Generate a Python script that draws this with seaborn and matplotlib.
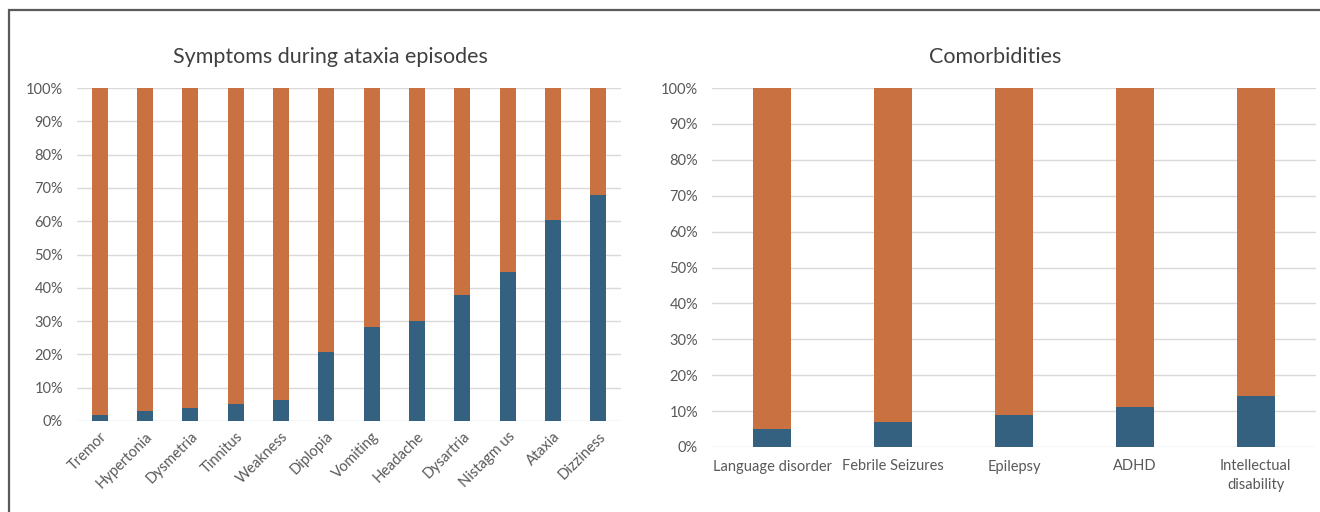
import matplotlib
matplotlib.use("Agg")
import matplotlib.pyplot as plt
import seaborn as sns
import pandas as pd
from matplotlib.ticker import PercentFormatter
from matplotlib.patches import Rectangle

# ---- data ----
symptoms = ["Tremor", "Hypertonia", "Dysmetria", "Tinnitus", "Weakness", "Diplopia",
            "Vomiting", "Headache", "Dysartria", "Nistagm us", "Ataxia", "Dizziness"]
symptoms_yes = [1.8, 3.0, 4.0, 5.1, 6.2, 20.6, 28.2, 30.0, 37.7, 44.7, 60.3, 67.9]
symptoms_no = [100 - v for v in symptoms_yes]

comorbidities = ["Language disorder", "Febrile Seizures", "Epilepsy", "ADHD",
                 "Intellectual\ndisability"]
comorb_yes = [5.1, 7.1, 9.0, 11.1, 14.3]
comorb_no = [100 - v for v in comorb_yes]

ORANGE = "#C97141"
BLUE = "#33617F"
GRID = "#D9D9D9"
TXT = "#595959"
TITLE = "#404040"

sns.set_theme(style="white")
plt.rcParams["font.family"] = ["Lato", "DejaVu Sans"]

fig = plt.figure(figsize=(13.2, 5.12), dpi=100)
W, H = 1320, 512

def px_axes(x0, x1, ytop, ybot):
    return fig.add_axes([x0 / W, 1 - ybot / H, (x1 - x0) / W, (ybot - ytop) / H])

ax1 = px_axes(77, 621, 88, 421)
ax2 = px_axes(712, 1316, 88, 447)

def stacked(ax, cats, yes, no, width):
    df = pd.DataFrame({"cat": cats, "yes": yes, "no": no})
    df["total"] = df["yes"] + df["no"]
    sns.barplot(data=df, x="cat", y="total", color=ORANGE, width=width, ax=ax,
                saturation=1, edgecolor="none", zorder=2)
    sns.barplot(data=df, x="cat", y="yes", color=BLUE, width=width, ax=ax,
                saturation=1, edgecolor="none", zorder=3)
    ax.set_ylim(0, 100)
    ax.set_xlim(-0.5, len(cats) - 0.5)
    ax.set_yticks(range(0, 101, 10))
    ax.yaxis.set_major_formatter(PercentFormatter(decimals=0))
    ax.grid(axis="y", color=GRID, linewidth=1.0, zorder=0)
    ax.set_axisbelow(True)
    for s in ax.spines.values():
        s.set_visible(False)
    ax.set_xlabel("")
    ax.set_ylabel("")
    ax.tick_params(axis="both", length=0, colors=TXT, labelsize=10.5)
    ax.tick_params(axis="y", pad=10)

stacked(ax1, symptoms, symptoms_yes, symptoms_no, 0.35)
stacked(ax2, comorbidities, comorb_yes, comorb_no, 0.315)

for lab in ax1.get_xticklabels():
    lab.set_rotation(45)
    lab.set_ha("right")
    lab.set_rotation_mode("anchor")
for lab in ax2.get_xticklabels():
    lab.set_linespacing(1.45)
ax1.tick_params(axis="x", pad=6)
ax2.tick_params(axis="x", pad=9)

fig.text(330 / W, 1 - 57 / H, "Symptoms during ataxia episodes", ha="center", va="center",
         fontsize=15.5, color=TITLE)
fig.text(995 / W, 1 - 57 / H, "Comorbidities", ha="center", va="center",
         fontsize=15.5, color=TITLE)

# outer frame
fig.patches.append(Rectangle((9 / W, -0.1), 1.2, 1.1 - 9.5 / H + 0.0,
                             transform=fig.transFigure, fill=False,
                             edgecolor="#5A5A5A", linewidth=1.6))

fig.savefig("out.png", dpi=100)
